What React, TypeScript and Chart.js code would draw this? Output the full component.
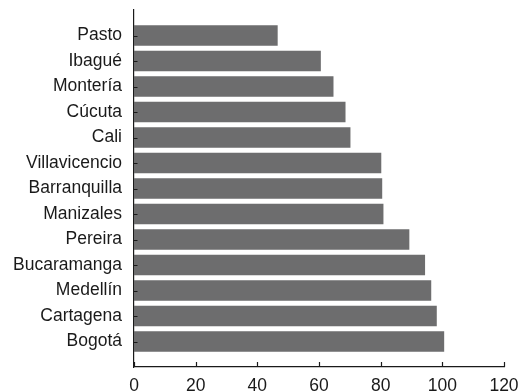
import React, { useEffect, useRef } from "react";
import { Chart, registerables } from "chart.js";

Chart.register(...registerables);

const cities = [
  "Pasto",
  "Ibagué",
  "Montería",
  "Cúcuta",
  "Cali",
  "Villavicencio",
  "Barranquilla",
  "Manizales",
  "Pereira",
  "Bucaramanga",
  "Medellín",
  "Cartagena",
  "Bogotá",
];
const values = [46.6, 60.6, 64.7, 68.6, 70.2, 80.2, 80.5, 80.9, 89.3, 94.4, 96.4, 98.2, 100.6];
const xMin = 0;
const xMax = 120;
const xStep = 20;

const FONT = "'Liberation Sans', Arial, Helvetica, sans-serif";
const TEXT = "#1a1a1a";
const AXIS = "#1a1a1a";
const BAR = "#6d6d6e";

const inwardTicks = {
  id: "inwardTicks",
  afterDatasetsDraw(chart: any) {
    const ctx = chart.ctx;
    const xs = chart.scales.x;
    const ys = chart.scales.y;
    ctx.save();
    ctx.strokeStyle = AXIS;
    ctx.lineWidth = 1.2;
    ctx.beginPath();
    xs.ticks.forEach((t: any) => {
      const px = Math.round(xs.getPixelForValue(t.value)) + 0.5;
      ctx.moveTo(px, xs.top);
      ctx.lineTo(px, xs.top - 5);
    });
    ys.ticks.forEach((t: any) => {
      const py = Math.round(ys.getPixelForValue(t.value)) + 0.5;
      ctx.moveTo(ys.right, py);
      ctx.lineTo(ys.right + 3.5, py);
    });
    ctx.stroke();
    ctx.restore();
  },
};

export default function App() {
  const ref = useRef<HTMLCanvasElement | null>(null);
  useEffect(() => {
    if (!ref.current) return;
    const chart = new Chart(ref.current, {
      type: "bar",
      data: {
        datasets: [
          {
            data: values.map((v, i) => ({ x: v, y: i })),
            backgroundColor: BAR,
            borderWidth: 0,
            barPercentage: 1,
            categoryPercentage: 0.8,
          },
        ],
      },
      options: {
        indexAxis: "y",
        animation: false,
        responsive: true,
        maintainAspectRatio: false,
        layout: { padding: { left: 0, top: 10, right: 17, bottom: 0 } },
        plugins: { legend: { display: false }, tooltip: { enabled: false } },
        scales: {
          x: {
            type: "linear",
            min: xMin,
            max: xMax,
            offset: false,
            grid: { display: false, drawTicks: false },
            border: { display: true, color: AXIS, width: 1.2 },
            ticks: {
              stepSize: xStep,
              padding: 9,
              color: TEXT,
              font: { family: FONT, size: 17.5 },
              maxRotation: 0,
            },
            afterFit(scale: any) {
              scale.height = 25;
              scale.paddingLeft = 0;
              scale.paddingRight = 0;
            },
          },
          y: {
            type: "linear",
            reverse: true,
            offset: false,
            min: -1,
            max: cities.length,
            grid: { display: false, drawTicks: false, offset: false },
            border: { display: true, color: AXIS, width: 1.2 },
            ticks: {
              stepSize: 1,
              autoSkip: false,
              padding: 12,
              color: TEXT,
              font: { family: FONT, size: 17.5 },
              callback: (v: any) => cities[v as number] ?? "",
            },
            afterBuildTicks(scale: any) {
              scale.ticks = scale.ticks.filter(
                (t: any) => t.value >= 0 && t.value < cities.length && Number.isInteger(t.value)
              );
            },
            afterFit(scale: any) {
              scale.width = 134;
              scale.paddingTop = 0;
              scale.paddingBottom = 0;
            },
          },
        },
      },
      plugins: [inwardTicks],
    });
    return () => chart.destroy();
  }, []);
  return (
    <div style={{ position: "fixed", left: 0, top: 0, width: 521, height: 392, background: "#fff" }}>
      <canvas ref={ref} />
    </div>
  );
}
